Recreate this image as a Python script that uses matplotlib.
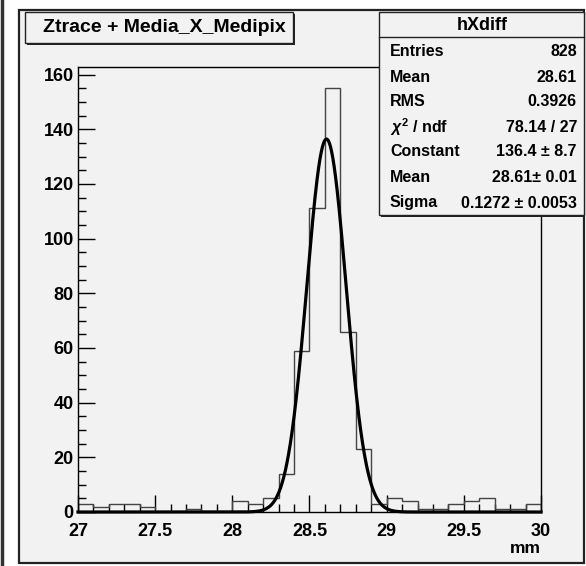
import numpy as np
import matplotlib
matplotlib.use('Agg')
import matplotlib.pyplot as plt
from matplotlib.patches import Rectangle
from matplotlib.lines import Line2D
from matplotlib.ticker import MultipleLocator

# histogram hXdiff, 30 bins of 0.1 mm from 27 to 30
bin_edges = np.round(np.arange(27.0, 30.01, 0.1), 2)
counts = [3, 2, 3, 3, 2, 0, 0, 1, 0, 0,
          4, 3, 5, 14, 59, 111, 155, 66, 23, 3,
          5, 4, 1, 1, 3, 4, 5, 1, 1, 3]

# gaussian fit result
fit_const = 136.4
fit_mean = 28.61
fit_sigma = 0.1272

title = 'Ztrace + Media_X_Medipix'
stat_labels = ['Entries', 'Mean', 'RMS', r'$\chi^{2}$ / ndf', 'Constant', 'Mean', 'Sigma']
stat_values = ['828', '28.61', '0.3926', '78.14 / 27',
               '136.4 \u00b1 8.7', '28.61\u00b1 0.01', '0.1272 \u00b1 0.0053']

W, H = 586, 566
bg = '#f2f2f2'
plt.rcParams['font.family'] = ['Liberation Sans', 'DejaVu Sans']
plt.rcParams['font.weight'] = 'bold'
plt.rcParams['mathtext.fontset'] = 'custom'
plt.rcParams['mathtext.rm'] = 'Liberation Sans:bold'
plt.rcParams['mathtext.it'] = 'Liberation Sans:italic:bold'


def fx(px):
    return px / W


def fy(py):
    return 1 - py / H


fig = plt.figure(figsize=(W / 100, H / 100), dpi=100, facecolor='white')

# canvas frame
fig.add_artist(Line2D([fx(2), fx(2)], [0, 1], color='#333333', lw=2.5))
fig.add_artist(Rectangle((fx(19), fy(563)), (584 - 19) / W, (563 - 10) / H,
                         facecolor=bg, edgecolor='#222222', lw=1.6,
                         transform=fig.transFigure, zorder=0))

ax = fig.add_axes([fx(78), fy(512), (541 - 78) / W, (512 - 67) / H])
ax.set_facecolor(bg)

ax.stairs(counts, bin_edges, color='#444444', lw=1.0, zorder=2)

xs = np.linspace(27, 30, 1200)
ys = fit_const * np.exp(-0.5 * ((xs - fit_mean) / fit_sigma) ** 2)
ax.plot(xs, ys, color='black', lw=2.3, zorder=3, clip_on=False)

ax.set_xlim(27, 30)
ax.set_ylim(0, 1.05 * max(counts))
ax.xaxis.set_minor_locator(MultipleLocator(0.1))
ax.yaxis.set_major_locator(MultipleLocator(20))
ax.yaxis.set_minor_locator(MultipleLocator(5))
ax.set_xticks([27, 27.5, 28, 28.5, 29, 29.5, 30])
ax.set_xticklabels(['27', '27.5', '28', '28.5', '29', '29.5', '30'])
ax.tick_params(which='both', direction='in', top=False, right=False,
               labelsize=13, color='black', width=1)
ax.tick_params(which='major', length=12)
ax.tick_params(which='minor', length=6)
ax.tick_params(axis='x', pad=8)
ax.tick_params(axis='y', pad=3)
for lab in ax.get_xticklabels() + ax.get_yticklabels():
    lab.set_fontweight('bold')
for sp in ax.spines.values():
    sp.set_linewidth(1.0)
ax.set_xlabel('mm', fontsize=12.5, fontweight='bold')
ax.xaxis.set_label_coords(1.0, -0.065)
ax.xaxis.label.set_horizontalalignment('right')

# title box
fig.add_artist(Rectangle((fx(27), fy(45)), (295 - 27) / W, (45 - 14) / H,
                         facecolor='#222222', edgecolor='none',
                         transform=fig.transFigure, zorder=4))
fig.add_artist(Rectangle((fx(25), fy(43)), (293 - 25) / W, (43 - 12) / H,
                         facecolor=bg, edgecolor='#222222', lw=1.0,
                         transform=fig.transFigure, zorder=5))
fig.text(fx(164), fy(28), title, ha='center', va='center', fontsize=14,
         fontweight='bold', zorder=6)

# stats box
fig.add_artist(Rectangle((fx(381), fy(217)), (584 - 381) / W, (217 - 14) / H,
                         facecolor='#222222', edgecolor='none',
                         transform=fig.transFigure, zorder=4))
fig.add_artist(Rectangle((fx(379), fy(215)), (584 - 379) / W, (215 - 12) / H,
                         facecolor=bg, edgecolor='#222222', lw=1.0,
                         transform=fig.transFigure, zorder=5))
fig.add_artist(Line2D([fx(379), fx(584)], [fy(37), fy(37)], color='#222222',
                      lw=1.0, zorder=6))
fig.text(fx(482), fy(25), 'hXdiff', ha='center', va='center', fontsize=13,
         fontweight='bold', zorder=6)
row_y = [52, 77, 102, 127, 152, 178, 203]
for yy, lab, val in zip(row_y, stat_labels, stat_values):
    fig.text(fx(390), fy(yy), lab, ha='left', va='center', fontsize=11.5,
             fontweight='bold', zorder=6)
    fig.text(fx(577), fy(yy), val, ha='right', va='center', fontsize=11.5,
             fontweight='bold', zorder=6)

fig.savefig('out.png', dpi=100, facecolor='white')
